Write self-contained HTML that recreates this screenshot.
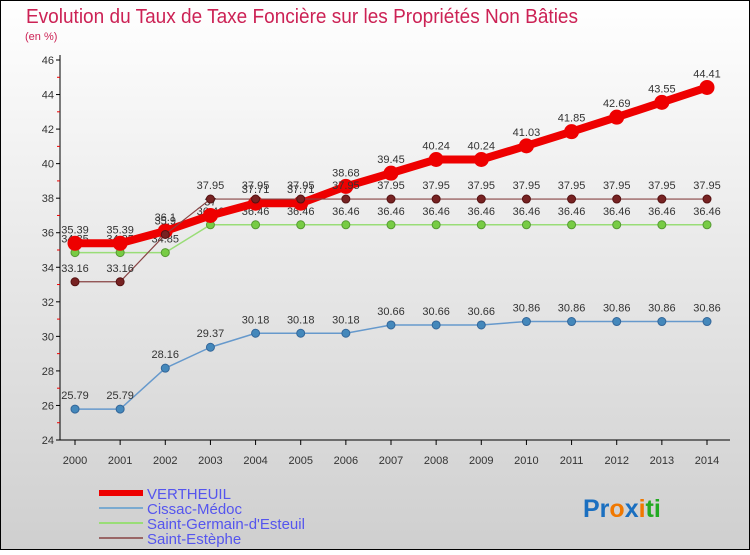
<!DOCTYPE html>
<html><head><meta charset="utf-8"><style>
html,body{margin:0;padding:0;}
body{width:750px;height:550px;overflow:hidden;font-family:"Liberation Sans",sans-serif;}
</style></head><body>
<svg id="chart" width="750" height="550" xmlns="http://www.w3.org/2000/svg">
<defs><linearGradient id="bg" x1="0" y1="0" x2="0" y2="1"><stop offset="0" stop-color="#ffffff"/><stop offset="1" stop-color="#cfcfcf"/></linearGradient></defs>
<rect x="0.5" y="0.5" width="749" height="549" fill="url(#bg)" stroke="#000"/>
<text x="26" y="23" font-size="20" fill="#cc2255" textLength="552" lengthAdjust="spacingAndGlyphs">Evolution du Taux de Taxe Foncière sur les Propriétés Non Bâties</text>
<text x="25" y="40" font-size="11" fill="#cc2255">(en %)</text>
<g id="axes"></g><g id="series"></g><g id="legend"></g>
<text x="583" y="517" font-size="25" font-weight="bold"><tspan fill="#1a6fc0">Pr</tspan><tspan fill="#f07800">o</tspan><tspan fill="#1a6fc0">x</tspan><tspan fill="#f07800">i</tspan><tspan fill="#22aa22">ti</tspan></text>
</svg>
<script>
const years=[2000,2001,2002,2003,2004,2005,2006,2007,2008,2009,2010,2011,2012,2013,2014];
const yTicks=[24,26,28,30,32,34,36,38,40,42,44,46];
const vertheuil=[35.39,35.39,36.1,37,37.71,37.71,38.68,39.45,40.24,40.24,41.03,41.85,42.69,43.55,44.41];
const cissac=[25.79,25.79,28.16,29.37,30.18,30.18,30.18,30.66,30.66,30.66,30.86,30.86,30.86,30.86,30.86];
const stGermain=[34.85,34.85,34.85,36.46,36.46,36.46,36.46,36.46,36.46,36.46,36.46,36.46,36.46,36.46,36.46];
const stEstephe=[33.16,33.16,35.9,37.95,37.95,37.95,37.95,37.95,37.95,37.95,37.95,37.95,37.95,37.95,37.95];
const NS="http://www.w3.org/2000/svg";
const X=i=>75+i*(707-75)/(years.length-1);
const Y=v=>440-(v-24)*(380/22);
function mk(t,a,p){const e=document.createElementNS(NS,t);for(const k in a)e.setAttribute(k,a[k]);p.appendChild(e);return e;}
const ax=document.getElementById('axes');
let l=mk('line',{x1:60,y1:55,x2:60,y2:440,stroke:'#000'},ax);


l=mk('line',{x1:60,y1:440,x2:730,y2:440,stroke:'#000'},ax);


yTicks.forEach(v=>{
 mk('line',{x1:56,y1:Y(v),x2:60,y2:Y(v),stroke:'#000'},ax);
 if(v<46) mk('line',{x1:57,y1:Y(v+1),x2:60,y2:Y(v+1),stroke:'#e00'},ax);
 const t=mk('text',{x:54,y:Y(v)+4,'font-size':11,'text-anchor':'end',fill:'#333'},ax);t.textContent=v;
 
 
});
years.forEach((yr,i)=>{
 mk('line',{x1:X(i),y1:440,x2:X(i),y2:445,stroke:'#000'},ax);
 const t=mk('text',{x:X(i),y:464,'font-size':11,'text-anchor':'middle',fill:'#333'},ax);t.textContent=yr;
 
 
});
const sg=document.getElementById('series');
function series(vals,name,color,w,r,dot,dotStroke){
 const g=mk('g',{},sg);
 
 
 mk('polyline',{points:vals.map((v,i)=>X(i)+','+Y(v)).join(' '),fill:'none',stroke:color,'stroke-width':w,'stroke-linejoin':'round'},g);
 vals.forEach((v,i)=>{
  const c=mk('circle',{cx:X(i),cy:Y(v),r:r,fill:dot,stroke:dotStroke,'stroke-width':1},g);
  
  
  const t=mk('text',{x:X(i),y:Y(v)-10,'font-size':11,'text-anchor':'middle',fill:'#333'},g);t.textContent=v;
  
  
 });
}
series(stGermain,'saint-germain','#99dd77',1.5,4,'#77cc44','#559933');
series(cissac,'cissac','#6699cc',1.5,4,'#4488bb','#336699');
series(vertheuil,'vertheuil','#ee0000',8,7,'#ee0000','#ee0000');
series(stEstephe,'saint-estephe','#884444',1.2,4,'#772222','#551111');
const lg=document.getElementById('legend');
const items=[['VERTHEUIL','#ee0000',6],['Cissac-Médoc','#7aaad0',2],['Saint-Germain-d\'Esteuil','#99dd77',2],['Saint-Estèphe','#996666',2]];
items.forEach((it,k)=>{
 const y=493+k*15;
 mk('line',{x1:99,y1:y,x2:143,y2:y,stroke:it[1],'stroke-width':it[2]},lg);
 const t=mk('text',{x:147,y:y+6,'font-size':15,fill:'#5555ee'},lg);t.textContent=it[0];
 
 
});
</script>
</body></html>
